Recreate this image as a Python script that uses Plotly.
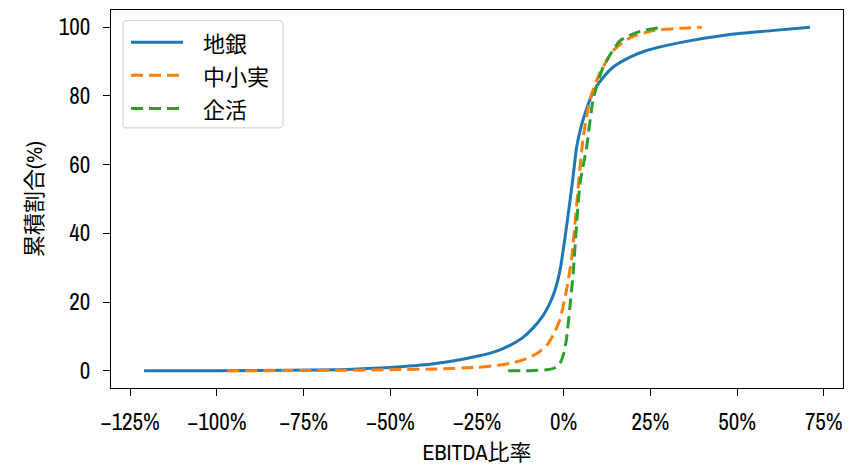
import plotly.graph_objects as go

# Cumulative share (%) of firms by EBITDA ratio, three data sources
chigin_x = [-1.21, -1.0, -0.8, -0.65, -0.53, -0.47, -0.385, -0.28, -0.2, -0.155, -0.12,
            -0.088, -0.06, -0.04, -0.025, -0.011, 0.0035, 0.018, 0.027, 0.037, 0.05,
            0.066, 0.08, 0.095, 0.115, 0.143, 0.19, 0.239, 0.335, 0.479, 0.6, 0.71]
chigin_y = [0.0, 0.05, 0.15, 0.3, 0.8, 1.2, 1.9, 3.6, 5.5, 7.4, 9.5,
            12.5, 16.0, 19.6, 23.5, 29.0, 38.5, 49.3, 56.4, 64.9, 71.0,
            76.2, 80.0, 82.8, 85.5, 88.4, 91.2, 93.2, 95.5, 97.9, 99.0, 100.0]

chusho_x = [-0.97, -0.75, -0.5, -0.35, -0.25, -0.184, -0.14, -0.107, -0.075, -0.049,
            -0.03, -0.011, 0.008, 0.023, 0.032, 0.042, 0.056, 0.076, 0.104, 0.143,
            0.191, 0.258, 0.335, 0.398]
chusho_y = [0.0, 0.1, 0.3, 0.6, 1.0, 1.7, 2.5, 3.6, 5.2, 7.4,
            10.5, 14.9, 23.4, 32.8, 42.2, 53.5, 67.7, 79.0, 86.6, 93.2,
            96.9, 99.0, 99.7, 100.0]

kikatsu_x = [-0.16, -0.1, -0.049, -0.025, -0.011, 0.0, 0.008, 0.018, 0.027, 0.037,
             0.047, 0.066, 0.085, 0.114, 0.162, 0.22, 0.285]
kikatsu_y = [0.0, 0.05, 0.3, 0.9, 2.1, 5.0, 9.2, 18.7, 28.0, 42.2,
             54.5, 64.9, 79.0, 88.4, 96.0, 98.8, 100.0]

series_names = ["地銀", "中小実", "企活"]
series_colors = ["#1f77b4", "#ff7f0e", "#2ca02c"]
series_dashes = ["solid", "12px,6px", "12px,6px"]

x_tick_vals = [-1.25, -1.0, -0.75, -0.5, -0.25, 0.0, 0.25, 0.5, 0.75]
x_tick_labels = ["−125%", "−100%", "−75%", "−50%", "−25%", "0%", "25%", "50%", "75%"]
y_tick_vals = [0, 20, 40, 60, 80, 100]

x_title = "EBITDA比率"
y_title = "累積割合(%)"

FONT = "Archivo Narrow, Asap Condensed, Noto Sans CJK JP, sans-serif"
CJK_FONT = "Noto Sans CJK JP, sans-serif"
W, H = 859, 468
ML, MR, MT, MB = 111, 16, 9, 71
PW, PH = W - ML - MR, H - MT - MB


def px_to_paper(px, py):
    return (px - ML) / PW, (MT + PH - py) / PH


fig = go.Figure()
data = [(chigin_x, chigin_y), (chusho_x, chusho_y), (kikatsu_x, kikatsu_y)]
for (xs, ys), name, color, dash in zip(data, series_names, series_colors, series_dashes):
    fig.add_trace(go.Scatter(
        x=xs, y=ys, mode="lines", name=name, showlegend=False,
        line=dict(color=color, width=3, dash=dash, shape="spline", smoothing=0.6),
        hoverinfo="x+y+name",
    ))

# legend panel drawn in paper coordinates
shapes = []
annotations = []
bx0, by0 = px_to_paper(123, 130)
bx1, by1 = px_to_paper(283, 20)
rx, ry = 4 / PW, 4 / PH
path = (f"M{bx0 + rx},{by0} L{bx1 - rx},{by0} Q{bx1},{by0} {bx1},{by0 + ry} "
        f"L{bx1},{by1 - ry} Q{bx1},{by1} {bx1 - rx},{by1} "
        f"L{bx0 + rx},{by1} Q{bx0},{by1} {bx0},{by1 - ry} "
        f"L{bx0},{by0 + ry} Q{bx0},{by0} {bx0 + rx},{by0} Z")
shapes.append(dict(type="path", xref="paper", yref="paper", path=path,
                   fillcolor="rgba(255,255,255,0.8)", line=dict(color="#d6d6d6", width=1.2),
                   layer="above"))
row_y = [42, 76, 110]
for ry_px, name, color, dash in zip(row_y, series_names, series_colors, series_dashes):
    lx0, ly = px_to_paper(131, ry_px)
    lx1, _ = px_to_paper(183, ry_px)
    shapes.append(dict(type="line", xref="paper", yref="paper", x0=lx0, x1=lx1, y0=ly, y1=ly,
                       line=dict(color=color, width=3, dash=dash), layer="above"))
    tx, _ = px_to_paper(201, ry_px)
    annotations.append(dict(xref="paper", yref="paper", x=tx, y=ly, text=name, showarrow=False,
                            xanchor="left", yanchor="middle",
                            font=dict(family=CJK_FONT, size=22, color="black")))

fig.update_layout(
    width=W, height=H,
    margin=dict(l=ML, r=MR, t=MT, b=MB, pad=0),
    paper_bgcolor="white", plot_bgcolor="white",
    font=dict(family=FONT, color="black"),
    shapes=shapes, annotations=annotations,
    showlegend=False,
)
fig.update_xaxes(
    range=[-1.3055, 0.8055], tickvals=x_tick_vals, ticktext=x_tick_labels,
    showgrid=False, zeroline=False, showline=True, mirror=True, linecolor="black", linewidth=1.2,
    ticks="outside", ticklen=7, tickwidth=1.2, tickcolor="black", ticklabelstandoff=6,
    tickfont=dict(family=FONT, size=23, color="black"),
    title=dict(text=x_title, font=dict(family=FONT, size=22, color="black"), standoff=7),
)
fig.update_yaxes(
    range=[-5, 105], tickvals=y_tick_vals,
    showgrid=False, zeroline=False, showline=True, mirror=True, linecolor="black", linewidth=1.2,
    ticks="outside", ticklen=7, tickwidth=1.2, tickcolor="black", ticklabelstandoff=8,
    tickfont=dict(family=FONT, size=23, color="black"),
    title=dict(text=y_title, font=dict(family=FONT, size=22, color="black"), standoff=10),
)

fig.write_html("out.html")
